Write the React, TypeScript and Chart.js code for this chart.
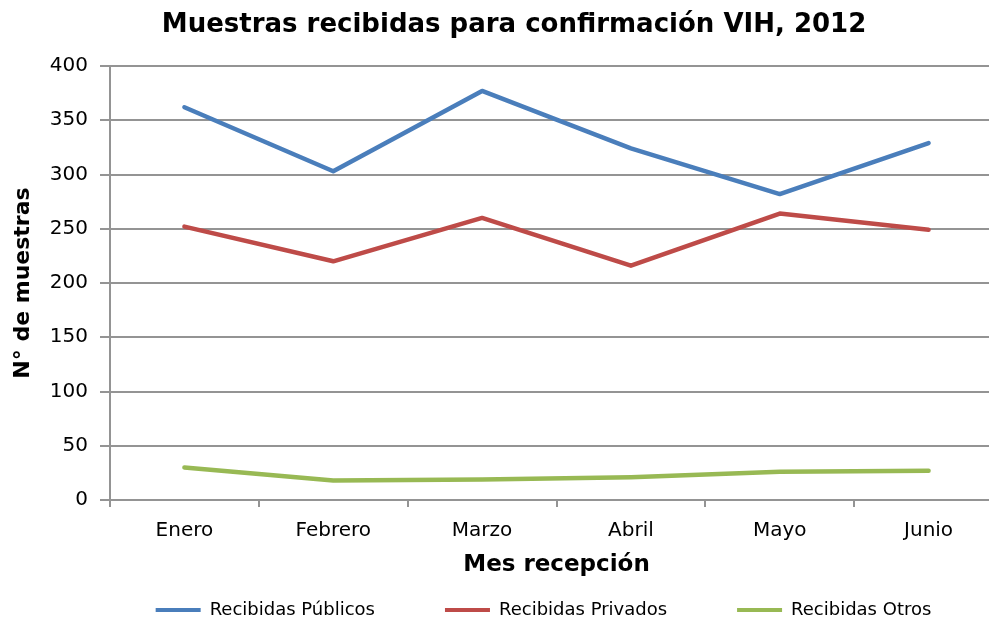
import React, { useEffect, useRef } from "react";
import { Chart, registerables } from "chart.js";

Chart.register(...registerables);

const categories = ["Enero", "Febrero", "Marzo", "Abril", "Mayo", "Junio"];
const recibidasPublicos = [362, 303, 377, 324, 282, 329];
const recibidasPrivados = [252, 220, 260, 216, 264, 249];
const recibidasOtros = [30, 18, 19, 21, 26, 27];
const seriesNames = ["Recibidas Públicos", "Recibidas Privados", "Recibidas Otros"];
const yMin = 0;
const yMax = 400;
const yStep = 50;

const chartTitle = "Muestras recibidas para confirmación VIH, 2012";
const xTitle = "Mes recepción";
const yTitle = "N° de muestras";

const FONT = "'DejaVu Sans', Verdana, sans-serif";
const GRID = "#949494";
const LEGEND_FONT = 18;
const LEGEND_PAD = 70;

const shiftPlugin = {
  id: "shiftBoxes",
  afterLayout(chart: any) {
    const t = chart.titleBlock;
    if (t) {
      const dx = 12.5;
      t.left += dx;
      t.right += dx;
    }
    const l = chart.legend;
    if (l) {
      const dx = 42;
      l.left += dx;
      l.right += dx;
      l.top = 610 - LEGEND_PAD - LEGEND_FONT / 2;
      l.bottom = 621;
    }
  },
};

export default function App() {
  const ref = useRef<HTMLCanvasElement | null>(null);

  useEffect(() => {
    if (!ref.current) return;
    const mk = (label: string, data: number[], color: string) => ({
      label,
      data,
      borderColor: color,
      backgroundColor: color,
      borderWidth: 4.5,
      pointRadius: 0,
      pointHoverRadius: 0,
      tension: 0,
      fill: false,
      borderCapStyle: "round" as const,
      borderJoinStyle: "round" as const,
    });
    const chart = new Chart(ref.current, {
      type: "line",
      data: {
        labels: categories,
        datasets: [
          mk(seriesNames[0], recibidasPublicos, "#4A7EBB"),
          mk(seriesNames[1], recibidasPrivados, "#BE4B48"),
          mk(seriesNames[2], recibidasOtros, "#98B954"),
        ],
      },
      plugins: [shiftPlugin],
      options: {
        animation: false,
        responsive: false,
        devicePixelRatio: 1,
        layout: { padding: 0 },
        plugins: {
          tooltip: { enabled: false },
          title: {
            display: true,
            text: chartTitle,
            color: "#000",
            font: { family: FONT, size: 26, weight: "bold" },
            padding: { top: 10, bottom: 24.8 },
          },
          legend: {
            display: true,
            position: "bottom",
            maxHeight: 40,
            labels: {
              color: "#000",
              font: { family: FONT, size: LEGEND_FONT },
              boxWidth: 45,
              boxHeight: 4,
              padding: LEGEND_PAD,
              generateLabels: (c: any) =>
                Chart.defaults.plugins.legend.labels
                  .generateLabels(c)
                  .map((it: any) => ({ ...it, lineWidth: 0 })),
            },
          },
        },
        scales: {
          x: {
            type: "category",
            offset: true,
            grid: {
              offset: true,
              drawOnChartArea: false,
              drawTicks: true,
              tickLength: 7,
              color: GRID,
              lineWidth: 2,
            },
            border: { display: true, color: GRID, width: 2 },
            ticks: {
              color: "#000",
              font: { family: FONT, size: 20 },
              padding: 12,
              maxRotation: 0,
            },
            title: {
              display: true,
              text: xTitle,
              color: "#000",
              font: { family: FONT, size: 23, weight: "bold" },
              padding: { top: 0, bottom: 1.7 },
            },
            afterFit: (s: any) => {
              s.height = 81;
            },
          },
          y: {
            min: yMin,
            max: yMax,
            grid: {
              color: GRID,
              lineWidth: 2,
              tickLength: 10,
              drawTicks: true,
            },
            border: { display: true, color: GRID, width: 2 },
            ticks: {
              stepSize: yStep,
              color: "#000",
              font: { family: FONT, size: 20 },
              padding: 12,
            },
            title: {
              display: true,
              text: yTitle,
              color: "#000",
              font: { family: FONT, size: 22, weight: "bold" },
              padding: { top: 10, bottom: 0 },
            },
            afterFit: (s: any) => {
              s.width = 110;
            },
          },
        },
      },
    });
    return () => chart.destroy();
  }, []);

  return (
    <div
      style={{
        position: "fixed",
        left: 0,
        top: 0,
        width: 989,
        height: 621,
        overflow: "hidden",
        background: "#fff",
      }}
    >
      <canvas ref={ref} width={1003} height={621} style={{ display: "block" }} />
    </div>
  );
}
